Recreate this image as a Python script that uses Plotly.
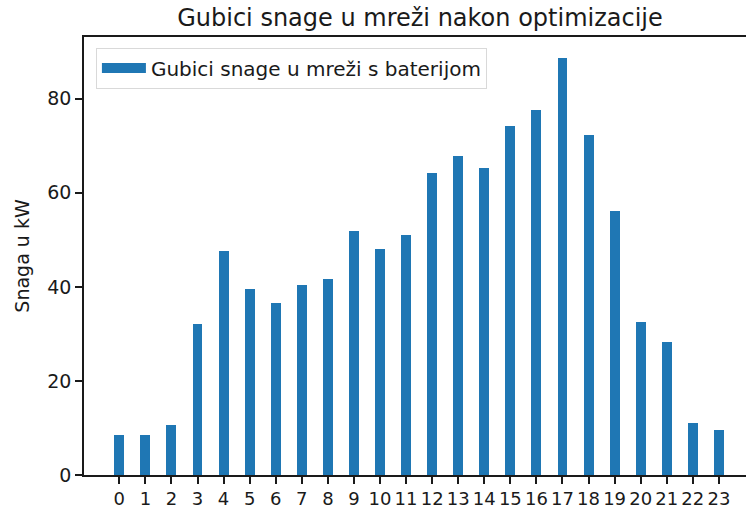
import plotly.graph_objects as go

hours = list(range(24))
tick_labels = [str(h) for h in hours]
gubici = [8.5, 8.5, 10.7, 32.2, 47.6, 39.5, 36.5, 40.3, 41.6, 51.9, 48.0, 51.1,
          64.3, 67.8, 65.2, 74.2, 77.6, 88.7, 72.4, 56.2, 32.5, 28.3, 11.1, 9.5]

series_name = "Gubici snage u mreži s baterijom"
title_text = "Gubici snage u mreži nakon optimizacije"
y_title = "Snaga u kW"

FONT = "DejaVu Sans"
BLUE = "#1f77b4"
INK = "#1a1a1a"
fig = go.Figure()
fig.add_trace(go.Bar(x=hours, y=gubici, name=series_name, width=0.38, showlegend=False,
                     marker=dict(color=BLUE, line=dict(width=0))))
# legend entry drawn as a wide patch (like matplotlib's bar legend handle)
fig.add_trace(go.Scatter(x=[None], y=[None], mode="lines", name=series_name,
                         line=dict(color=BLUE, width=14), showlegend=True))

fig.update_layout(
    width=746, height=512,
    margin=dict(l=84, r=0, t=37, b=37, autoexpand=False),
    paper_bgcolor="white", plot_bgcolor="white",
    font=dict(family=FONT, size=19, color=INK),
    title=dict(text=title_text, x=(420 / 746), xanchor="center", y=1 - 18 / 512,
               yanchor="middle", font=dict(size=24, color=INK)),
    showlegend=True,
    legend=dict(x=0.018, y=0.976, xanchor="left", yanchor="top",
                bgcolor="rgba(255,255,255,0.8)", bordercolor="#d9d9d9", borderwidth=1,
                itemwidth=44, font=dict(size=20, color=INK)),
    bargap=0,
)
fig.update_xaxes(range=[-1.354, 24.04], tickmode="array", tickvals=hours, ticktext=tick_labels,
                 tickangle=0, tickfont=dict(size=18),
                 showline=True, linecolor=INK, linewidth=1.5, mirror=True, automargin=False,
                 ticks="outside", ticklen=7, tickwidth=1.5, tickcolor=INK, showgrid=False, zeroline=False)
fig.update_yaxes(range=[0, max(gubici) * 1.05], tickvals=[0, 20, 40, 60, 80], automargin=False,
                 tickfont=dict(size=19),
                 showline=True, linecolor=INK, linewidth=1.5, mirror=False,
                 ticks="outside", ticklen=7, tickwidth=1.5, tickcolor=INK, showgrid=False, zeroline=False,
                 title=dict(text=y_title, standoff=13, font=dict(size=19)))
fig.write_html("out.html", config={"displayModeBar": False},
               post_script="document.body.style.margin='0';")
